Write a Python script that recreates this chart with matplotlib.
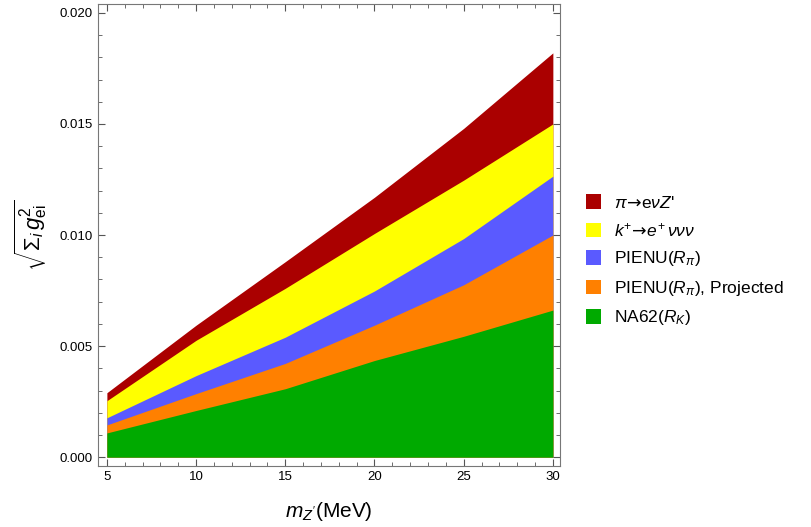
import matplotlib
matplotlib.use("Agg")
import matplotlib.pyplot as plt
from matplotlib.patches import Patch
from matplotlib.ticker import MultipleLocator

plt.rcParams['font.family'] = ['Liberation Sans', 'DejaVu Sans']
plt.rcParams['mathtext.fontset'] = 'custom'
plt.rcParams['mathtext.rm'] = 'Liberation Sans'
plt.rcParams['mathtext.it'] = 'Liberation Sans:italic'
plt.rcParams['mathtext.bf'] = 'Liberation Sans:bold'
plt.rcParams['mathtext.sf'] = 'DejaVu Sans'

mass = [5, 10, 15, 20, 25, 30]
pi_evZ = [0.0029, 0.00594, 0.0088, 0.0117, 0.0148, 0.0182]
k_evvv = [0.00254, 0.00526, 0.0076, 0.01007, 0.01247, 0.0150]
pienu = [0.00177, 0.00367, 0.0054, 0.00748, 0.00984, 0.01265]
pienu_proj = [0.00145, 0.00286, 0.00422, 0.00594, 0.00776, 0.0100]
na62 = [0.00109, 0.0021, 0.00308, 0.00435, 0.00544, 0.00662]

labels = [r"$\pi\!\mathsf{\rightarrow}\!\mathrm{e}\nu Z$'",
          r"$k^{+}\!\mathsf{\rightarrow}\! e^{+}\,\nu\nu\nu$",
          r"PIENU$(R_{\pi})$",
          r"PIENU$(R_{\pi})$, Projected",
          r"NA62$(R_{K})$"]
colors = ['#AA0000', '#FFFF00', '#5A5AFF', '#FF8000', '#00AA00']
series = [pi_evZ, k_evvv, pienu, pienu_proj, na62]

fig = plt.figure(figsize=(8.11, 5.27), dpi=100)
ax = fig.add_axes([0.1208, 0.1157, 0.5697, 0.8767])

for s, c in zip(series, colors):
    ax.fill_between(mass, 0, s, color=c, linewidth=0)

ax.set_xlim(4.5, 30.4)
ax.set_ylim(-0.0004, 0.0204)
ax.xaxis.set_major_locator(MultipleLocator(5))
ax.xaxis.set_minor_locator(MultipleLocator(1))
ax.yaxis.set_major_locator(MultipleLocator(0.005))
ax.yaxis.set_minor_locator(MultipleLocator(0.001))
ax.yaxis.set_major_formatter(matplotlib.ticker.FormatStrFormatter('%.3f'))
ax.tick_params(which='both', direction='in', top=True, right=True, color='#555555', labelsize=9.5)
ax.tick_params(which='major', length=5)
ax.tick_params(which='minor', length=3)
for sp in ax.spines.values():
    sp.set_color('#777777')

ax.set_xlabel(r"$m_{Z^{\prime}}$(MeV)", fontsize=15, labelpad=12)
ax.set_ylabel(r"$\sqrt{\Sigma_{i}\, g_{\mathrm{ei}}^{2}}$", fontsize=16, labelpad=8)

handles = [Patch(facecolor=c, edgecolor='none') for c in colors]
fig.legend(handles, labels, loc='center left', bbox_to_anchor=(0.703, 0.505),
           frameon=False, fontsize=12.5, handlelength=0.9, handleheight=0.9,
           labelspacing=0.6, handletextpad=0.7)

fig.savefig("out.png", dpi=100)
